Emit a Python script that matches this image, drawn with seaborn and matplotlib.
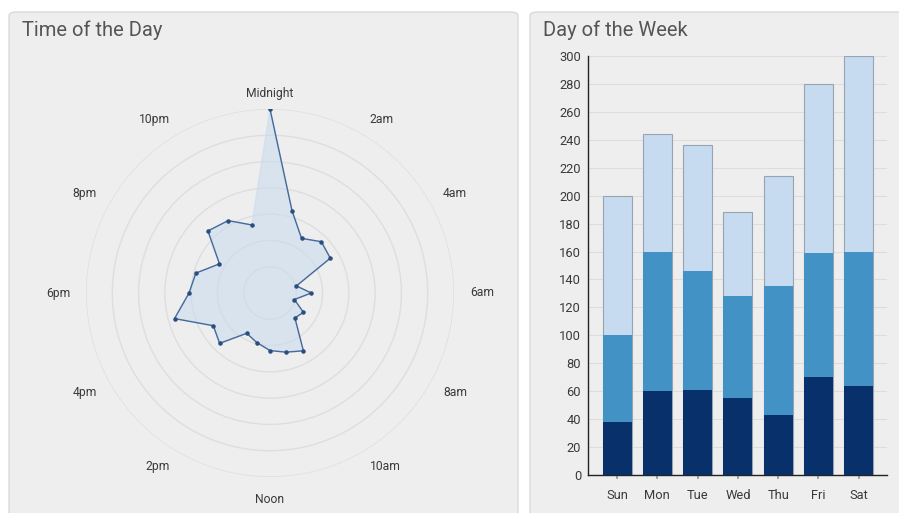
import numpy as np
import pandas as pd
import matplotlib
matplotlib.use("Agg")
import matplotlib.pyplot as plt
from matplotlib.patches import FancyBboxPatch
import seaborn as sns

# ---- data ----
hour_labels = ["Midnight", "2am", "4am", "6am", "8am", "10am",
               "Noon", "2pm", "4pm", "6pm", "8pm", "10pm"]
hourly_activity = [7.0, 3.24, 2.4, 2.76, 2.65, 1.04, 1.57, 0.96,
                   1.47, 1.34, 2.54, 2.33, 2.19, 1.95, 1.77, 2.71,
                   2.49, 3.76, 3.08, 2.92, 2.22, 3.34, 3.18, 2.68]

days = ["Sun", "Mon", "Tue", "Wed", "Thu", "Fri", "Sat"]
seg_dark = [38, 60, 61, 55, 43, 70, 64]
seg_mid = [62, 100, 85, 73, 92, 89, 96]
seg_light = [100, 84, 90, 60, 79, 121, 140]

sns.set_theme(style="white")
plt.rcParams["font.family"] = ["Roboto", "DejaVu Sans"]

W, H = 899, 513
fig = plt.figure(figsize=(W / 100, H / 100), dpi=100)
fig.patch.set_facecolor("white")


def px_box(x0, y0, x1, y1):
    return [x0 / W, 1 - y1 / H, (x1 - x0) / W, (y1 - y0) / H]


# card backgrounds (behind the axes)
for x0, x1 in [(9, 518), (530, 912)]:
    l, b, w, h = px_box(x0, 12, x1, 530)
    card = FancyBboxPatch((l, b), w, h, boxstyle="round,pad=0,rounding_size=0.008",
                          transform=fig.transFigure, facecolor="#eeeeee",
                          edgecolor="#d9d9d9", linewidth=1.0, zorder=-5)
    fig.patches.append(card)

title_kw = dict(fontsize=14.5, color="#555555", va="center", ha="left")
fig.text(22 / W, 1 - 30 / H, "Time of the Day", **title_kw)
fig.text(543 / W, 1 - 30 / H, "Day of the Week", **title_kw)

# ---- radar: time of day ----
cx, cy, R = 270, 293, 184
axp = fig.add_axes(px_box(cx - R, cy - R, cx + R, cy + R), projection="polar")
axp.set_facecolor("none")
axp.set_theta_zero_location("N")
axp.set_theta_direction(-1)
axp.spines["polar"].set_visible(False)

theta = np.deg2rad(np.arange(24) * 15.0)
vals = np.array(hourly_activity)
th_closed = np.append(theta, theta[0])
v_closed = np.append(vals, vals[0])
radar_df = pd.DataFrame({"theta": th_closed, "value": v_closed})
axp.fill(th_closed, v_closed, color="#c6dbef", alpha=0.55, zorder=2)
sns.lineplot(data=radar_df, x="theta", y="value", sort=False, ax=axp,
             color="#44699a", linewidth=1.0, zorder=3)
axp.scatter(theta, vals, s=5, color="#2a4f7f", zorder=4)
axp.set_xlabel("")
axp.set_ylabel("")

axp.set_ylim(0, 7)
axp.set_yticks(np.arange(1, 8))
axp.set_yticklabels([])
axp.set_xticks([])
axp.yaxis.grid(True, color="#dedede", linewidth=1.0)
axp.xaxis.grid(False)

# hour labels sit just outside the outer ring, anchored on the side facing it
for i, lab in enumerate(hour_labels):
    ang = i * 30
    r = 7.6
    if ang == 0:
        ha, va, r = "center", "bottom", 7.35
    elif ang == 180:
        ha, va = "center", "top"
    elif ang < 180:
        ha, va = "left", "center"
    else:
        ha, va = "right", "center"
    axp.text(np.deg2rad(ang), r, lab, ha=ha, va=va,
             fontsize=8.7, color="#3a3a3a")

# ---- stacked bars: day of week ----
axb = fig.add_axes(px_box(588, 56, 887, 475))
axb.set_facecolor("none")
bar_df = pd.DataFrame({"day": days, "dark": seg_dark, "mid": seg_mid,
                       "light": seg_light})
bar_df["top_mid"] = bar_df["dark"] + bar_df["mid"]
bar_df["total"] = bar_df["top_mid"] + bar_df["light"]

sns.barplot(data=bar_df, x="day", y="total", color="#c6dbef", width=0.72,
            edgecolor="#98a4b3", linewidth=0.8, saturation=1, ax=axb, zorder=2)
sns.barplot(data=bar_df, x="day", y="top_mid", color="#4292c6", width=0.72,
            linewidth=0, saturation=1, ax=axb, zorder=3)
sns.barplot(data=bar_df, x="day", y="dark", color="#08306b", width=0.72,
            linewidth=0, saturation=1, ax=axb, zorder=4)

axb.set_xlim(-0.72, 6.70)
axb.set_ylim(0, 300)
axb.set_yticks(np.arange(0, 301, 20))
axb.yaxis.grid(True, color="#dddddd", linewidth=0.8, zorder=0)
axb.set_axisbelow(True)
axb.set_xlabel("")
axb.set_ylabel("")
for s in ["top", "right"]:
    axb.spines[s].set_visible(False)
for s in ["left", "bottom"]:
    axb.spines[s].set_color("#222222")
    axb.spines[s].set_linewidth(1.0)
axb.tick_params(axis="y", length=0, pad=5, labelsize=9.3, labelcolor="#3a3a3a")
axb.tick_params(axis="x", length=3, color="#999999", pad=7, labelsize=9.3,
                labelcolor="#3a3a3a", bottom=True)

fig.savefig("out.png", dpi=100, facecolor="white")
